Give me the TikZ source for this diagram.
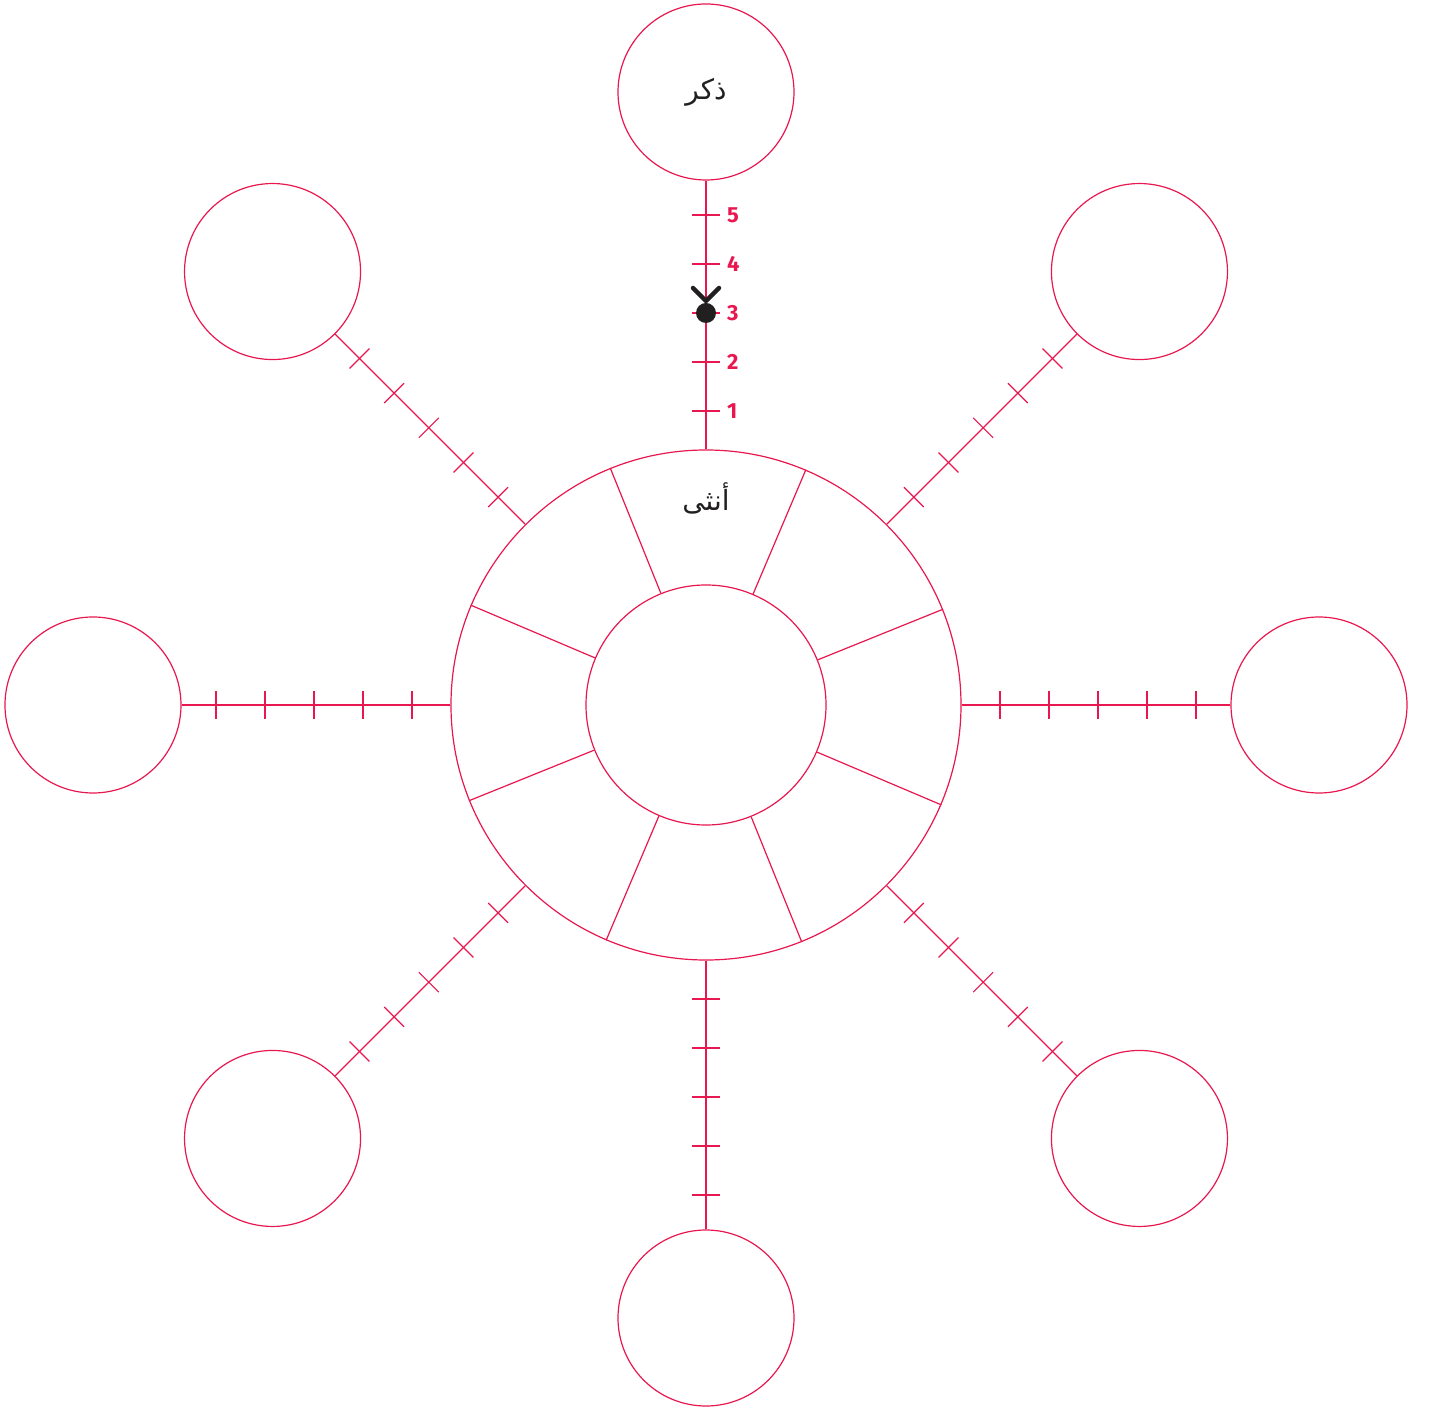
\documentclass[tikz,border=0pt]{standalone}
\usepackage{fontspec}
\usetikzlibrary{calc}
\TeXXeTstate=1
\newfontfamily\arabicfont[Script=Arabic]{DejaVu Sans}
\newfontfamily\numfont{Fira Sans}
\definecolor{crim}{RGB}{232,23,79}
\definecolor{ink}{RGB}{34,31,32}
\begin{document}
\begin{tikzpicture}[x=1bp,y=1bp,
  crimline/.style={draw=crim,line width=1.2bp},
  outer/.style={circle,crimline,minimum size=176bp,inner sep=0pt},
  numlab/.style={text=crim,font=\numfont\bfseries\fontsize{22}{24}\selectfont,anchor=west,inner sep=0pt},
  artext/.style={text=ink,font=\arabicfont\fontsize{28}{32}\selectfont,inner sep=0pt}]
\useasboundingbox (-706,-705) rectangle (725,705);
\node[circle,crimline,minimum size=510bp,inner sep=0pt] (ring) at (0,0) {};
\node[circle,crimline,minimum size=240bp,inner sep=0pt] (hub) at (0,0) {};
\foreach \a/\n in {0/e,45/ne,90/n,135/nw,180/w,225/sw,270/s,315/se}{
  \node[outer] (c\n) at (\a:613) {};
  \draw[crimline] (ring) -- (c\n);
  \foreach \d in {294,343,392,441,490}{
    \draw[crimline] ($(\a:\d)+(\a+90:14)$) -- ($(\a:\d)+(\a-90:14)$);
  }
}
\foreach \a in {22.5,67.5,...,337.5}{
  \draw[crimline] (hub.\a) -- (ring.\a);
}
\node[artext] (male) at (0,613) {\beginR ذكر\endR};
\node[artext] (female) at (0,207) {\beginR أنثى\endR};
\foreach \k/\d in {1/294,2/343,3/392,4/441,5/490}{
  \node[numlab] (num\k) at (21,\d) {\k};
}
\fill[ink] (0,392) circle (10);
\draw[ink,line width=4.5bp,line cap=round,line join=round] (-13,417) -- (0,404) -- (13,417);
\end{tikzpicture}
\end{document}
